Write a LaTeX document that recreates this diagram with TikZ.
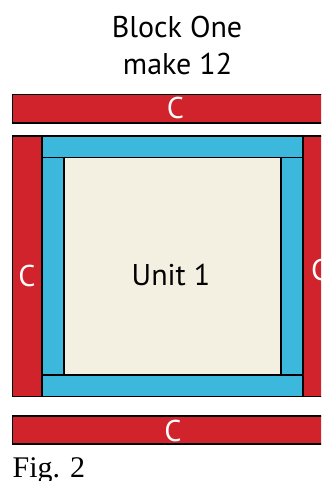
\documentclass[tikz,border=0pt]{standalone}
\usepackage{fontspec}
\setmainfont{PT Sans}
\newfontfamily\figfont{Liberation Serif}
\definecolor{quiltred}{RGB}{209,35,44}
\definecolor{quiltblue}{RGB}{60,184,220}
\definecolor{quiltcream}{RGB}{243,239,225}
\tikzset{
 patch/.style={draw=black,line width=1.3pt,line join=miter},
 redp/.style={patch,fill=quiltred},
 bluep/.style={patch,fill=quiltblue},
 creamp/.style={patch,fill=quiltcream},
 whitelabel/.style={text=white,font=\fontsize{30}{30}\selectfont,inner sep=0pt,anchor=base},
 blacklabel/.style={text=black,font=\fontsize{30}{30}\selectfont,inner sep=0pt,anchor=base},
}
\begin{document}
\begin{tikzpicture}[x=1pt,y=-1pt]
\useasboundingbox (0,0) rectangle (321,481);
\clip (0,0) rectangle (321,481);
\node[blacklabel] (title1) at (177,37.5) {Block One};
\node[blacklabel] (title2) at (177.5,74.5) {make 12};
\draw[redp] (12.5,94.5) rectangle (330,123);
\node[whitelabel] (ctop) at (175.5,118.5) {C};
\draw[redp] (12.5,136) rectangle (42,396.5);
\node[whitelabel] (cleft) at (27,286) {C};
\draw[redp] (303,136) rectangle (330,396.5);
\node[whitelabel,anchor=base west] (cright) at (311,280) {C};
\draw[bluep] (42,136) rectangle (303,157.5);
\draw[bluep] (42,375) rectangle (303,396.5);
\draw[bluep] (42,157.5) rectangle (64,375);
\draw[bluep] (281,157.5) rectangle (303,375);
\draw[creamp] (64,157.5) rectangle (281,375);
\node[blacklabel] (unit) at (171,285) {Unit 1};
\draw[redp] (12.5,416) rectangle (330,444);
\node[whitelabel] (cbottom) at (173,441) {C};
\node[inner sep=0pt,anchor=base west,font=\figfont\fontsize{30}{30}\selectfont] (fig) at (12.5,477) {Fig. 2};
\end{tikzpicture}
\end{document}
